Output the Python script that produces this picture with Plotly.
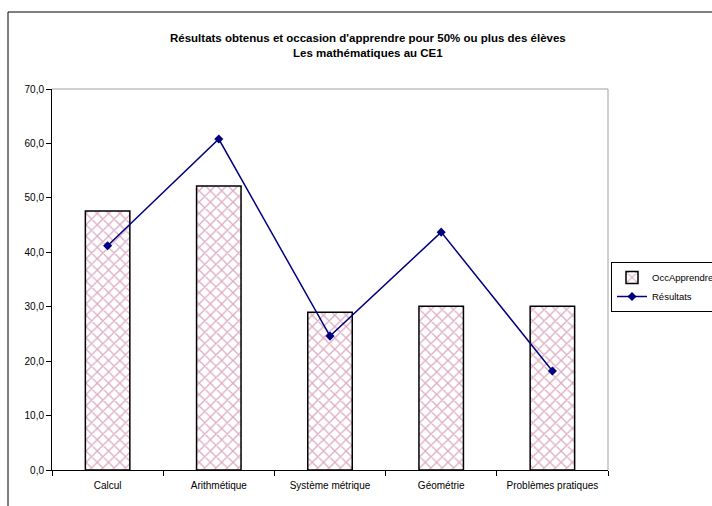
import plotly.graph_objects as go

categories = ["Calcul", "Arithmétique", "Système métrique", "Géométrie", "Problèmes pratiques"]
occ_apprendre = [47.6, 52.2, 29.0, 30.1, 30.1]
resultats = [41.2, 60.8, 24.6, 43.7, 18.2]
y_tick_values = [0, 10, 20, 30, 40, 50, 60, 70]
y_tick_labels = ["0,0", "10,0", "20,0", "30,0", "40,0", "50,0", "60,0", "70,0"]

W, H = 712, 506
L, R, T, B = 52, 104, 89, 36
PW, PH = W - L - R, H - T - B

def px_x(x):
    return (x - L) / PW

def px_y(y):
    return (H - B - y) / PH

fig = go.Figure()
fig.add_trace(go.Bar(
    x=categories, y=occ_apprendre, name="OccApprendre",
    marker=dict(color="white", line=dict(color="black", width=1.5),
                pattern=dict(shape="x", fgcolor="#b85888", bgcolor="white", size=8, solidity=0.3)),
))
fig.add_trace(go.Scatter(
    x=categories, y=resultats, name="Résultats", mode="lines+markers",
    line=dict(color="#000080", width=1.5),
    marker=dict(symbol="diamond", size=7, color="#000080"),
))

fig.update_layout(
    width=W, height=H,
    margin=dict(l=L, r=R, t=T, b=B, autoexpand=False),
    paper_bgcolor="white", plot_bgcolor="white",
    bargap=0.6,
    font=dict(family="Arial, Liberation Sans, sans-serif", size=10, color="black"),
    showlegend=True,
    legend=dict(x=px_x(611), y=px_y(262), xanchor="left", yanchor="top",
                bordercolor="black", borderwidth=1, bgcolor="white",
                font=dict(size=9.5), tracegroupgap=0, itemwidth=30),
    xaxis=dict(showline=True, linecolor="black", linewidth=1, ticks="outside", tickson="boundaries",
               ticklen=5, tickcolor="black", showgrid=False, mirror=False, tickfont=dict(size=10),
               ticklabelstandoff=6),
    yaxis=dict(range=[0, 70], tickvals=y_tick_values, ticktext=y_tick_labels, showline=True,
               linecolor="black", linewidth=1, ticks="outside", ticklen=5, tickcolor="black",
               showgrid=False, zeroline=False, tickfont=dict(size=10)),
    shapes=[
        dict(type="line", xref="paper", yref="paper", x0=0, x1=1, y0=1, y1=1, line=dict(color="#a0a0a0", width=1)),
        dict(type="line", xref="paper", yref="paper", x0=1, x1=1, y0=0, y1=1, line=dict(color="#a0a0a0", width=1)),
        dict(type="line", xref="paper", yref="paper", x0=px_x(8), x1=px_x(8),
             y0=px_y(H + 10), y1=px_y(12), line=dict(color="black", width=1)),
        dict(type="line", xref="paper", yref="paper", x0=px_x(8), x1=px_x(W + 10),
             y0=px_y(12), y1=px_y(12), line=dict(color="black", width=1)),
    ],
    annotations=[
        dict(xref="paper", yref="paper", x=px_x(368), y=px_y(45),
             text="<b>Résultats obtenus et occasion d'apprendre pour 50% ou plus des élèves<br>Les mathématiques au CE1</b>",
             showarrow=False, font=dict(size=11.5, color="black"), align="center", xanchor="center", yanchor="middle"),
    ],
)

fig.write_html("out.html")
